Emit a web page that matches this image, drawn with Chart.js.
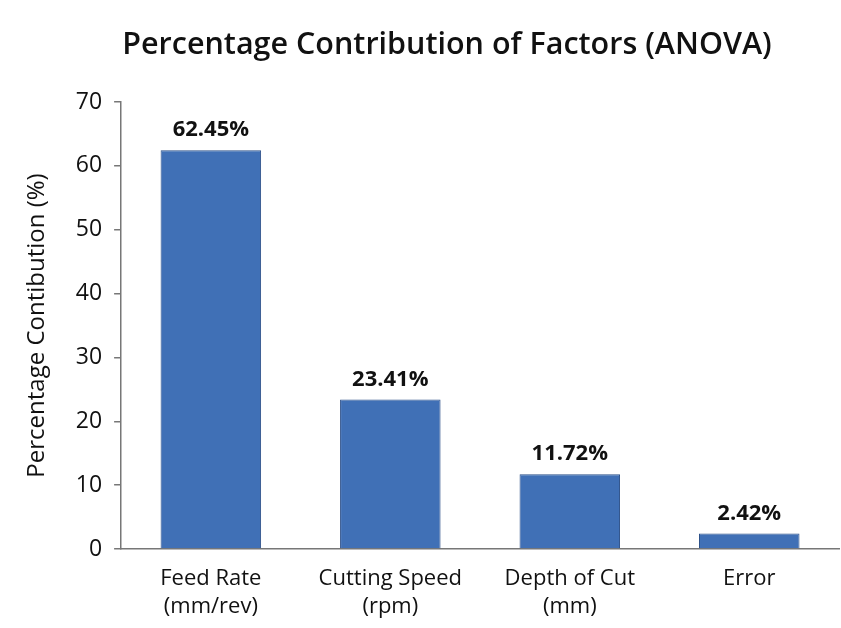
<!DOCTYPE html>
<html>
<head>
<meta charset="utf-8">
<script src="https://cdn.jsdelivr.net/npm/chart.js@4"></script>
<style>
  html, body { margin: 0; padding: 0; background: #fff; }
  #wrap { width: 841px; height: 628px; }
</style>
</head>
<body>
<div id="wrap"><canvas id="anova"></canvas></div>
<script>
const factors = [['Feed Rate', '(mm/rev)'], ['Cutting Speed', '(rpm)'], ['Depth of Cut', '(mm)'], 'Error'];
const contribution = [62.45, 23.41, 11.72, 2.42];
const yTicks = [0, 10, 20, 30, 40, 50, 60, 70];
const chartTitle = 'Percentage Contribution of Factors (ANOVA)';

const FONT = "'Open Sans', 'Liberation Sans', sans-serif";

// draw the percentage above each bar, and the title (sits a bit right of centre)
const barValues = {
  id: 'barValues',
  afterDatasetsDraw(chart) {
    const ctx = chart.ctx;
    const meta = chart.getDatasetMeta(0);
    ctx.save();
    ctx.font = 'bold 22px ' + FONT;
    ctx.fillStyle = '#111';
    ctx.textAlign = 'center';
    ctx.textBaseline = 'bottom';
    meta.data.forEach((bar, i) => {
      ctx.fillText(contribution[i].toFixed(2) + '%', bar.x, bar.y - 9);
    });
    ctx.font = '600 30.5px ' + FONT;
    ctx.textBaseline = 'middle';
    ctx.fillText(chartTitle, 447, 45);
    ctx.restore();
  }
};

new Chart(document.getElementById('anova'), {
  type: 'bar',
  data: {
    labels: factors,
    datasets: [{
      data: contribution,
      backgroundColor: '#4070B6',
      borderColor: '#2C5089',
      borderWidth: 1,
      barPercentage: 0.56,
      categoryPercentage: 1
    }]
  },
  options: {
    responsive: true,
    maintainAspectRatio: false,
    animation: false,
    layout: { padding: { top: 102, right: 2, bottom: -8, left: 19 } },
    plugins: {
      legend: { display: false },
      tooltip: { enabled: false },
      title: { display: false }
    },
    scales: {
      x: {
        grid: { display: false, drawTicks: false },
        border: { color: '#777', width: 1.5 },
        ticks: {
          color: '#111',
          font: { family: FONT, size: 22, lineHeight: 1.25 },
          padding: 16,
          maxRotation: 0
        }
      },
      y: {
        min: 0,
        max: 70,
        afterBuildTicks(axis) { axis.ticks = yTicks.map(v => ({ value: v })); },
        grid: { display: true, drawOnChartArea: false, tickLength: 7, color: '#777', lineWidth: 1.5 },
        border: { color: '#777', width: 1.5 },
        ticks: {
          color: '#111',
          font: { family: FONT, size: 23 },
          padding: 12
        },
        title: {
          display: true,
          text: 'Percentage Contibution (%)',
          color: '#111',
          font: { family: FONT, size: 24 },
          padding: { bottom: 12 }
        }
      }
    }
  },
  plugins: [barValues]
});
</script>
</body>
</html>
